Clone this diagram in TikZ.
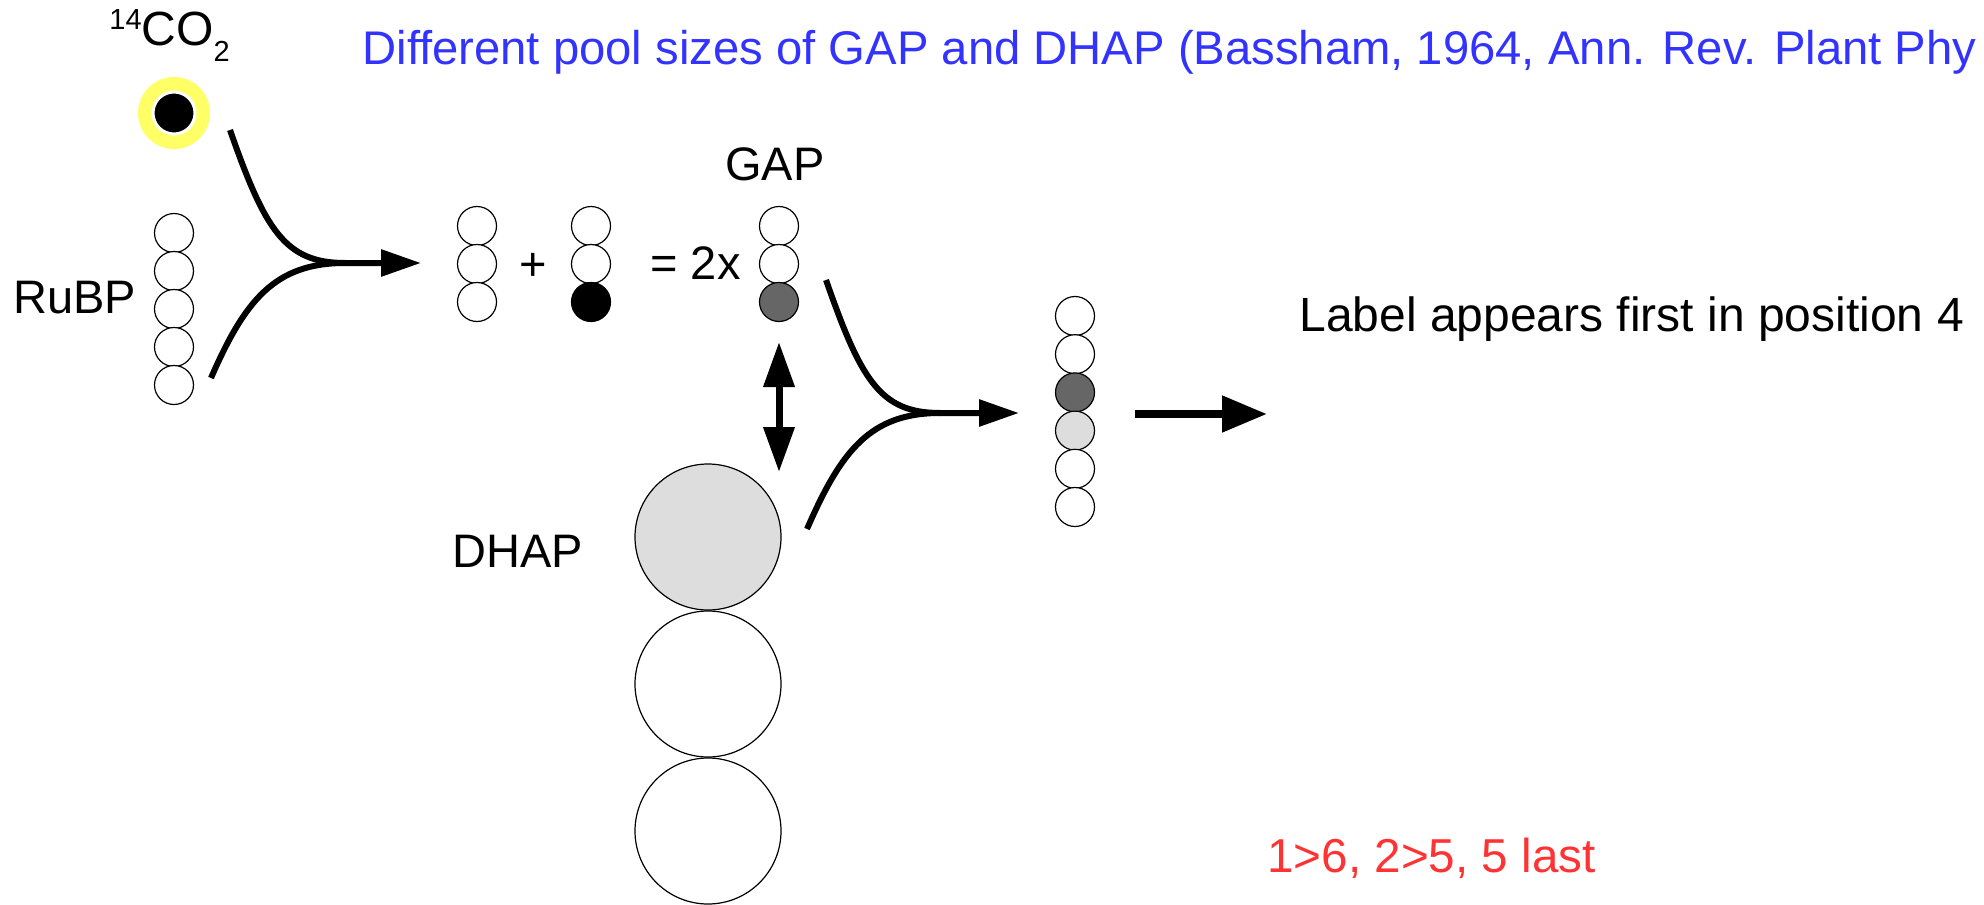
\documentclass[tikz,border=0pt]{standalone}
\usepackage{fontspec}
\setmainfont{Liberation Sans}
\usetikzlibrary{arrows.meta}
\definecolor{figblue}{HTML}{3333FF}
\definecolor{figred}{HTML}{FF3333}
\definecolor{figglow}{HTML}{FFFF66}
\definecolor{figdark}{HTML}{666666}
\definecolor{figlight}{HTML}{DDDDDD}

\begin{document}
\begin{tikzpicture}[x=0.5pt, y=-0.5pt, line join=round,
  atom/.style={circle, draw=black, line width=0.6pt, fill=white, minimum size=19.5pt, inner sep=0pt},
  bigatom/.style={atom, minimum size=73pt},
  lbl/.style={anchor=base west, inner sep=0pt, font=\fontsize{23.5}{28}\selectfont},
  biglbl/.style={lbl, font=\fontsize{23.8}{28}\selectfont},
  flow/.style={line width=3pt},
  flowtip/.style={flow, -{Triangle[length=20pt, width=13pt]}}]
  \useasboundingbox (0,0) rectangle (1984,904);

  % title (ends right at the edge)
  \node[lbl, font=\fontsize{23.62}{28}\selectfont, text=figblue] (title) at (362,65)
    {Different pool sizes of GAP and DHAP (Bassham, 1964, Ann. Rev. Plant Phy};

  % labelled CO2 with its glow
  \node[circle, fill=figglow, minimum size=36pt, inner sep=0pt] (glow) at (174,113) {};
  \node[circle, fill=black, draw=white, line width=1.5pt, minimum size=21pt, inner sep=0pt] (co2) at (glow) {};
  \node[lbl, font=\fontsize{24}{28}\selectfont] (co2lbl) at (109,46)
    {\raisebox{8pt}{\fontsize{14.5}{14}\selectfont 14}CO\raisebox{-8pt}{\fontsize{14.5}{14}\selectfont 2}};

  % RuBP, five carbons
  \foreach \i in {1,...,5} \node[atom] (ru\i) at (174,{233+38*(\i-1)}) {};
  \node[lbl] (rubp) at (13,313) {RuBP};

  % carboxylation: CO2 + RuBP merge
  \coordinate (co2out) at (230,130);
  \coordinate (ruout) at (211,378);
  \coordinate (join1) at (345,263);
  \coordinate (tip1) at (421,263);
  \draw[flow] (ruout) .. controls (245,300) and (275,263) .. (join1);
  \draw[flowtip] (co2out) .. controls (265,230) and (285,263) .. (join1) -- (tip1);

  % two C3 products, then GAP
  \foreach \i/\c in {1/white,2/white,3/white} \node[atom, fill=\c] (pa\i) at (477,{226+38*(\i-1)}) {};
  \foreach \i/\c in {1/white,2/white,3/black} \node[atom, fill=\c] (pb\i) at (591,{226+38*(\i-1)}) {};
  \foreach \i/\c in {1/white,2/white,3/figdark} \node[atom, fill=\c] (gap\i) at (779,{226+38*(\i-1)}) {};
  \node[lbl, anchor=center] (plus) at (533,267) {+};
  \node[lbl] (eq) at (650,279) {= 2x};
  \node[lbl] (gaplbl) at (725,180) {GAP};

  % DHAP, large pool
  \foreach \i/\c in {1/figlight,2/white,3/white} \node[bigatom, fill=\c] (dh\i) at (708,{537+147*(\i-1)}) {};
  \node[lbl] (dhaplbl) at (452,567) {DHAP};

  % isomerase exchange
  \coordinate (swapT) at (779,342);
  \coordinate (swapB) at (779,472);
  \draw[line width=3.5pt, {Triangle[length=22.5pt,width=15pt]}-{Triangle[length=22.5pt,width=15pt]}] (swapT) -- (swapB);

  % aldolase: GAP + DHAP merge
  \coordinate (gapout) at (826,280);
  \coordinate (dhout) at (807,529);
  \coordinate (join2) at (940,413);
  \coordinate (tip2) at (1019,413);
  \draw[flow] (dhout) .. controls (841,451) and (870,413) .. (join2);
  \draw[flowtip] (gapout) .. controls (861,380) and (880,413) .. (join2) -- (tip2);

  % hexose, six carbons
  \foreach \i/\c in {1/white,2/white,3/figdark,4/figlight,5/white,6/white}
    \node[atom, fill=\c] (hx\i) at (1075,{316+38.2*(\i-1)}) {};

  \coordinate (outS) at (1135,414);
  \coordinate (outT) at (1267,414);
  \draw[line width=4pt, -{Triangle[length=22.5pt,width=17.5pt]}] (outS) -- (outT);

  % notes
  \node[lbl, font=\fontsize{24}{28}\selectfont] (note) at (1299,331) {Label appears first in position 4};
  \node[biglbl, text=figred] (order) at (1267,872) {1>6, 2>5, 5 last};
\end{tikzpicture}
\end{document}
